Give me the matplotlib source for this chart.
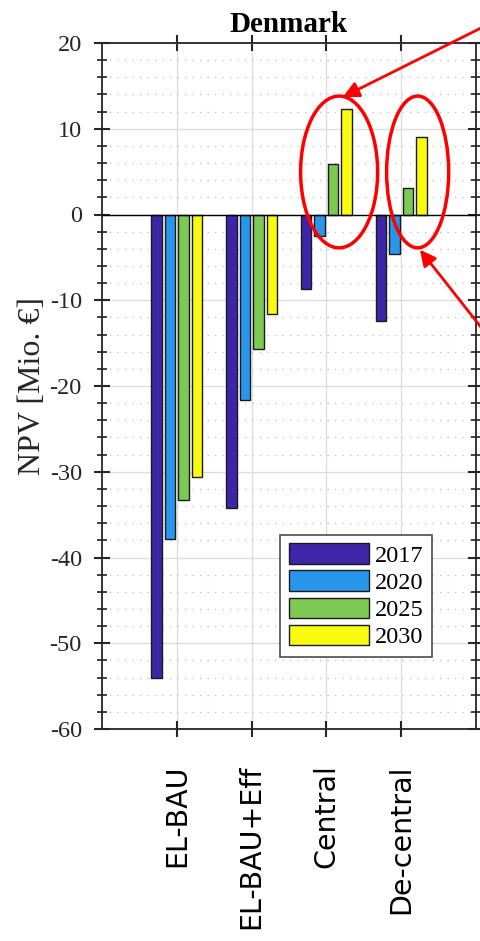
import matplotlib
matplotlib.use("Agg")
import matplotlib.pyplot as plt
from matplotlib.patches import Ellipse
from matplotlib.ticker import MultipleLocator
import numpy as np

plt.rcParams["axes.unicode_minus"] = False

# values (NPV in Mio. EUR)
scenarios = ["EL-BAU", "EL-BAU+Eff", "Central", "De-central"]
years = ["2017", "2020", "2025", "2030"]
npv_2017 = [-54.1, -34.2, -8.7, -12.4]
npv_2020 = [-37.9, -21.6, -2.5, -4.6]
npv_2025 = [-33.3, -15.7, 5.85, 3.1]
npv_2030 = [-30.6, -11.6, 12.3, 9.0]
series = [npv_2017, npv_2020, npv_2025, npv_2030]
colors = ["#3E26A8", "#2896EB", "#7EC854", "#F9FB0E"]

serif = "Liberation Serif"

fig = plt.figure(figsize=(4.81, 9.41), dpi=100)
ax = fig.add_axes([102 / 481, 212 / 941, 374 / 481, 686 / 941])

x = np.arange(1, len(scenarios) + 1)
offsets = [-0.27, -0.09, 0.09, 0.27]
for vals, off, col, yr in zip(series, offsets, colors, years):
	ax.bar(x + off, vals, width=0.14, color=col, edgecolor="#1a1a1a",
		linewidth=1.0, label=yr, zorder=3)

ax.axhline(0, color="black", lw=1.0, zorder=4)

ax.set_xlim(0, 5)
ax.set_ylim(-60, 20)
ax.set_xticks(x)
ax.set_xticklabels(scenarios, rotation=90, fontsize=20.5, family="DejaVu Sans")
ax.yaxis.set_major_locator(MultipleLocator(10))
ax.yaxis.set_minor_locator(MultipleLocator(2))
for lab in ax.get_yticklabels():
	lab.set_family(serif)
ax.tick_params(axis="y", which="major", labelsize=17.5, direction="inout",
	length=11, width=1.5, color="#262626", left=True, right=True, pad=9,
	labelcolor="#262626")
ax.tick_params(axis="y", which="minor", direction="inout", length=6.5,
	width=1.3, color="#333333", left=True, right=True)
ax.tick_params(axis="x", which="major", direction="inout", length=11,
	width=1.5, color="#262626", top=True, bottom=True, pad=20)

for s in ax.spines.values():
	s.set_color("#262626")
	s.set_linewidth(1.3)

ax.grid(True, which="major", color="#dcdcdc", lw=0.9, zorder=0)
ax.grid(True, which="minor", axis="y", color="#bdbdbd", lw=0.9,
	linestyle=(0, (1, 5)), zorder=0)
ax.set_axisbelow(True)

ax.set_ylabel("NPV [Mio. €]", family=serif, fontsize=23, color="#262626",
	labelpad=2)
ax.set_title("Denmark", family=serif, fontsize=21, fontweight="bold", pad=8)

leg = ax.legend(loc="upper left", bbox_to_anchor=(0.476, 0.283),
	borderaxespad=0, prop={"family": serif, "size": 17.5}, fancybox=False,
	edgecolor="#4d4d4d", framealpha=1, handlelength=3.3, handleheight=0.9,
	handletextpad=0.25, labelspacing=0.15, borderpad=0.35)
leg.get_frame().set_linewidth(1.2)
leg.set_zorder(6)

# red highlight ellipses and arrows
ax.add_patch(Ellipse((3.17, 4.96), 1.03, 17.7, fill=False, ec="red",
	lw=2.5, zorder=5))
ax.add_patch(Ellipse((4.22, 4.96), 0.83, 17.7, fill=False, ec="red",
	lw=2.5, zorder=5))
arrow = dict(arrowstyle="-|>", color="red", lw=2, mutation_scale=24,
	shrinkA=0, shrinkB=0)
ax.annotate("", xy=(3.22, 13.7), xytext=(495, 920), textcoords="figure pixels",
	arrowprops=arrow, annotation_clip=False)
ax.annotate("", xy=(4.25, -4.1), xytext=(495, 596), textcoords="figure pixels",
	arrowprops=arrow, annotation_clip=False)

fig.savefig("out.png", dpi=100)
